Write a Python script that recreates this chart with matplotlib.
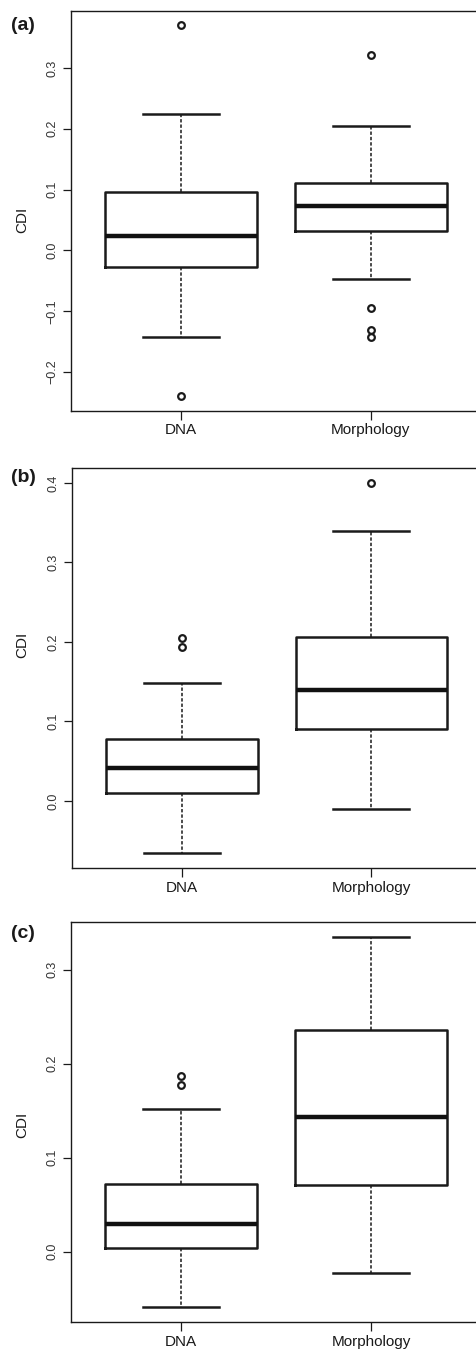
import matplotlib
matplotlib.use("Agg")
import matplotlib.pyplot as plt

plt.rcParams['font.family'] = ['Liberation Sans', 'DejaVu Sans']

categories = ["DNA", "Morphology"]
panel_labels = ["(a)", "(b)", "(c)"]
y_label = "CDI"

# box stats: [lower whisker, q1, median, q3, upper whisker]
a_dna = [-0.143, -0.027, 0.023, 0.096, 0.225]
a_dna_out = [0.370, -0.240]
a_morph = [-0.047, 0.032, 0.073, 0.111, 0.204]
a_morph_out = [0.322, -0.095, -0.131, -0.143]

b_dna = [-0.066, 0.010, 0.041, 0.078, 0.148]
b_dna_out = [0.205, 0.194]
b_morph = [-0.010, 0.091, 0.139, 0.206, 0.340]
b_morph_out = [0.400]

c_dna = [-0.059, 0.004, 0.029, 0.072, 0.152]
c_dna_out = [0.187, 0.177]
c_morph = [-0.023, 0.071, 0.143, 0.236, 0.335]
c_morph_out = []

a_ticks = [-0.2, -0.1, 0.0, 0.1, 0.2, 0.3]
b_ticks = [0.0, 0.1, 0.2, 0.3, 0.4]
c_ticks = [0.0, 0.1, 0.2, 0.3]

panels = [
    (a_dna, a_dna_out, a_morph, a_morph_out, a_ticks),
    (b_dna, b_dna_out, b_morph, b_morph_out, b_ticks),
    (c_dna, c_dna_out, c_morph, c_morph_out, c_ticks),
]

W, H = 476, 1353
fig = plt.figure(figsize=(W / 100, H / 100), dpi=100)

# layout in pixels: left, top, bottom, ylim, label y, cdi y
layout = [
    (71.0, 10.7, 411.0, (-0.264, 0.394), 25, 220),
    (72.3, 468.3, 868.3, (-0.0847, 0.4185), 478, 645),
    (71.3, 922.0, 1322.3, (-0.0751, 0.3507), 933, 1125),
]
right_px = 481

def stats(vals, out, name):
    lo, q1, med, q3, hi = vals
    return dict(whislo=lo, q1=q1, med=med, q3=q3, whishi=hi, fliers=out, label=name)

for (dna, dna_out, mor, mor_out, ticks), (lpx, tpx, bpx, ylim, lab_y, cdi_y), plab in zip(panels, layout, panel_labels):
    ax = fig.add_axes([lpx / W, 1 - bpx / H, (right_px - lpx) / W, (bpx - tpx) / H])
    st = [stats(dna, dna_out, categories[0]), stats(mor, mor_out, categories[1])]
    ax.bxp(st, positions=[1, 2], widths=0.8, showfliers=True,
           boxprops=dict(color='#1a1a1a', linewidth=1.8),
           medianprops=dict(color='#111111', linewidth=3.2, solid_capstyle='butt'),
           whiskerprops=dict(color='#1a1a1a', linewidth=1.1, linestyle=(0, (2.2, 1.3))),
           capprops=dict(color='#1a1a1a', linewidth=1.8),
           capwidths=0.4,
           flierprops=dict(marker='o', markersize=4.8, markerfacecolor='white',
                           markeredgecolor='#1a1a1a', markeredgewidth=1.6, linestyle='none'))
    ax.set_xlim(0.42, 2.58)
    ax.set_ylim(*ylim)
    ax.set_yticks(ticks)
    ax.set_yticklabels([("\u2212%.1f" % abs(t)) if t < 0 else "%.1f" % t for t in ticks],
                       rotation=90, va='center', fontsize=9, color='#333333')
    ax.set_xticks([1, 2])
    ax.set_xticklabels(categories, fontsize=11, color='#1a1a1a')
    ax.tick_params(axis='y', direction='out', length=5.5, width=0.9, pad=3.5, colors='#1a1a1a', labelcolor='#333333')
    ax.tick_params(axis='x', direction='out', length=6.5, width=0.9, pad=2.5, colors='#1a1a1a')
    for s in ax.spines.values():
        s.set_linewidth(1.0)
        s.set_color('#1a1a1a')
    fig.text(23 / W, 1 - lab_y / H, plab, fontsize=14, fontweight='bold',
             ha='center', va='center', color='#1a1a1a')
    fig.text(22 / W, 1 - cdi_y / H, y_label, fontsize=11, rotation=90,
             ha='center', va='center', color='#1a1a1a')

fig.savefig("out.png", dpi=100)
